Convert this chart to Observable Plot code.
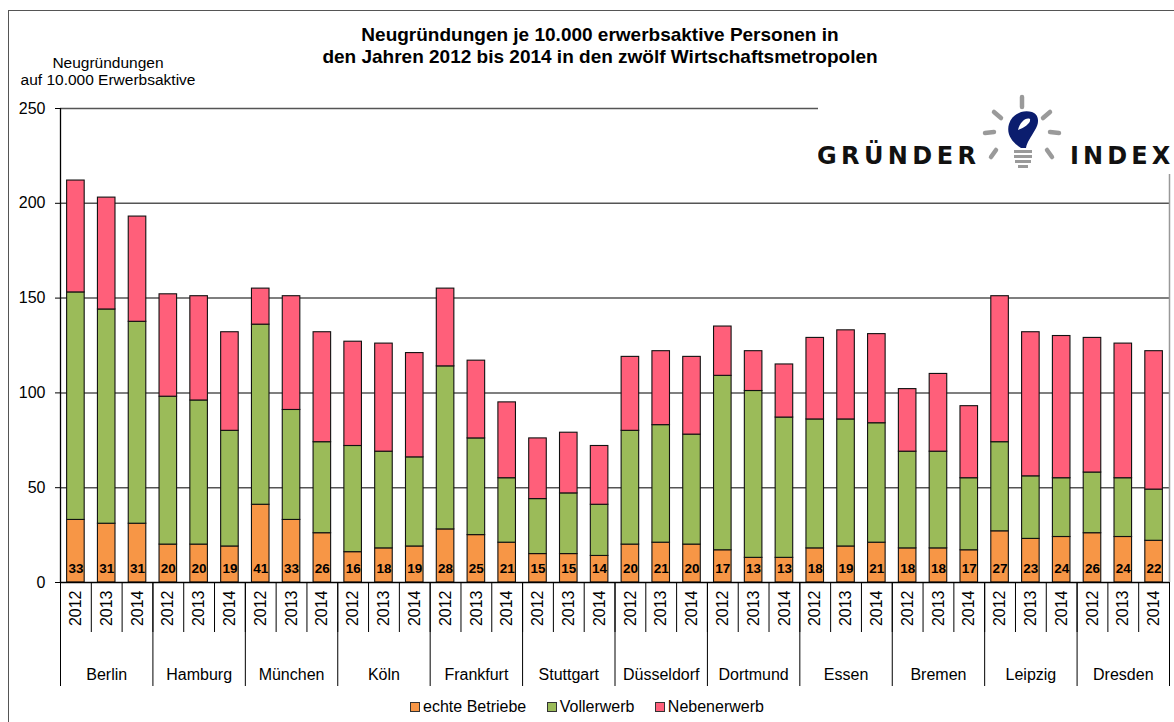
<!DOCTYPE html>
<html>
<head>
<meta charset="utf-8">
<script src="https://cdn.jsdelivr.net/npm/d3@7"></script>
<script src="https://cdn.jsdelivr.net/npm/@observablehq/plot@0.6"></script>
<style>
  html, body { margin: 0; padding: 0; background: #fff; }
  #wrap { position: relative; width: 1174px; height: 722px; overflow: hidden; background: #fff;
          font-family: "Liberation Sans", Arial, sans-serif; color: #000; }
  #frame { position: absolute; left: 8px; top: 10px; width: 1400px; height: 900px; border: 1.5px solid #555; }
  #plot { position: absolute; left: 0; top: 0; }
  #title { position: absolute; left: 0; top: 24px; width: 1200px; text-align: center; font-weight: bold;
           font-size: 19px; line-height: 22px; }
  #ylab { position: absolute; left: 8px; top: 54px; width: 200px; text-align: center; font-size: 15.5px; line-height: 17px; }
  #logo { position: absolute; left: 818px; top: 90px; width: 360px; height: 84px; background: #fff; }
  #legend { position: absolute; left: 0; top: 698px; width: 1174px; text-align: center; font-size: 16px; }
  #legend span.item { margin: 0 8px; white-space: nowrap; }
  #legend span.sw { display: inline-block; width: 8px; height: 8px; border: 1.5px solid #333; margin-right: 3px; vertical-align: 0px; }
</style>
</head>
<body>
<div id="wrap">
  <div id="frame"></div>
  <div id="plot"></div>
  <div id="title">Neugründungen je 10.000 erwerbsaktive Personen in<br>den Jahren 2012 bis 2014 in den zwölf Wirtschaftsmetropolen</div>
  <div id="ylab">Neugründungen<br>auf 10.000 Erwerbsaktive</div>
  <div id="logo">
    <svg width="360" height="84" viewBox="0 0 360 84">
      <text x="-1" y="74" font-family="DejaVu Sans" font-weight="bold" font-size="24" letter-spacing="4.4" fill="#111">GRÜNDER</text>
      <text x="252" y="74" font-family="DejaVu Sans" font-weight="bold" font-size="24" letter-spacing="4.1" fill="#111">INDEX</text>
      <g stroke="#9a9a9a" stroke-width="4.5" stroke-linecap="round" fill="none">
        <line x1="204" y1="7" x2="204" y2="17"/>
        <line x1="176" y1="22" x2="183" y2="28"/>
        <line x1="232" y1="22" x2="225" y2="28"/>
        <line x1="167" y1="43" x2="176" y2="42"/>
        <line x1="232" y1="42" x2="241" y2="43"/>
        <line x1="178" y1="60" x2="173" y2="67"/>
        <line x1="229" y1="60" x2="234" y2="67"/>
      </g>
      <g fill="#9a9a9a">
        <rect x="196" y="60" width="18" height="3"/>
        <rect x="196" y="65" width="18" height="3"/>
        <rect x="197" y="70" width="16" height="3"/>
        <rect x="200" y="75" width="10" height="3"/>
      </g>
      <path d="M203 58 C 194 52, 188 44, 191 34 C 194 24, 205 19, 214 22 C 222 25, 221 34, 217 40 C 213 47, 209 52, 208 58 Z M 200 40 C 202 32, 208 27, 212 29 C 213 33, 207 37, 200 40 Z" fill="#0b1d6e" fill-rule="evenodd"/>
    </svg>
  </div>
  <div id="legend">
    <span class="item"><span class="sw" style="background:#F79646"></span>echte Betriebe</span>
    <span class="item"><span class="sw" style="background:#9BBB59"></span>Vollerwerb</span>
    <span class="item"><span class="sw" style="background:#FF5F7A"></span>Nebenerwerb</span>
  </div>
</div>
<script>
// ---- data ----
const cities = ["Berlin", "Hamburg", "München", "Köln", "Frankfurt", "Stuttgart",
                "Düsseldorf", "Dortmund", "Essen", "Bremen", "Leipzig", "Dresden"];
const years = ["2012", "2013", "2014"];
const seriesNames = ["echte Betriebe", "Vollerwerb", "Nebenerwerb"];
const seriesColors = ["#F79646", "#9BBB59", "#FF5F7A"];
const echte = [33, 31, 31, 20, 20, 19, 41, 33, 26, 16, 18, 19,
               28, 25, 21, 15, 15, 14, 20, 21, 20, 17, 13, 13,
               18, 19, 21, 18, 18, 17, 27, 23, 24, 26, 24, 22];
const vollerwerb = [120, 113, 106.5, 78, 76, 61, 95, 58, 48, 56, 51, 47,
                    86, 51, 34, 29, 32, 27, 60, 62, 58, 92, 88, 74,
                    68, 67, 63, 51, 51, 38, 47, 33, 31, 32, 31, 27];
const nebenerwerb = [59, 59, 55.5, 54, 55, 52, 19, 60, 58, 55, 57, 55,
                     41, 41, 40, 32, 32, 31, 39, 39, 41, 26, 21, 28,
                     43, 47, 47, 33, 41, 38, 77, 76, 75, 71, 71, 73];
const yTicks = [0, 50, 100, 150, 200, 250];

// ---- build tables ----
const bars = [];
const segments = [];
cities.forEach((city, k) => {
  years.forEach((year, j) => {
    const i = k * years.length + j;
    const vals = [echte[i], vollerwerb[i], nebenerwerb[i]];
    bars.push({i, city, year, xm: i + 0.5, echte: echte[i]});
    let acc = 0;
    vals.forEach((v, s) => {
      segments.push({i, city, year, series: seriesNames[s], x1: i + 0.215, x2: i + 0.785, y1: acc, y2: acc + v});
      acc += v;
    });
  });
});
const n = bars.length;
const yearTicks = bars.map(d => d.xm);
const cityTicks = cities.map((c, k) => k * years.length + years.length / 2);
const cityBounds = d3.range(0, n + 1, years.length);

const chart = Plot.plot({
  width: 1174,
  height: 722,
  marginLeft: 60,
  marginRight: 5,
  marginTop: 108,
  marginBottom: 140,
  style: {fontFamily: "'Liberation Sans', Arial, sans-serif", background: "transparent", overflow: "visible", color: "#000"},
  x: {domain: [0, n]},
  y: {domain: [0, 250]},
  color: {domain: seriesNames, range: seriesColors},
  marks: [
    Plot.gridY(yTicks.slice(1), {stroke: "#555", strokeOpacity: 1, strokeWidth: 1.5}),
    Plot.ruleX([n], {y1: 0, y2: 250, stroke: "#999", strokeWidth: 1.5}),
    Plot.rect(segments, {x1: "x1", x2: "x2", y1: "y1", y2: "y2", fill: "series", stroke: "#111", strokeWidth: 1.1}),
    Plot.text(bars, {x: "xm", y: 0, text: d => String(d.echte), dy: -14, fontWeight: "bold", fontSize: 13.5, fill: "#000"}),
    Plot.axisY(yTicks, {tickSize: 5, tickPadding: 10, fontSize: 16, stroke: "#000", label: null}),
    Plot.ruleX([0], {y1: 0, y2: 250, stroke: "#000", strokeWidth: 1.3}),
    Plot.ruleY([0], {stroke: "#000", strokeWidth: 1.5}),
    Plot.axisX(d3.range(n + 1), {tickSize: 50, tickFormat: () => "", stroke: "#000", label: null}),
    Plot.axisX(cityBounds, {tickSize: 104, tickFormat: () => "", stroke: "#000", label: null}),
    Plot.axisX(yearTicks, {tickSize: 0, tickRotate: -90, tickPadding: 8, fontSize: 16,
                           tickFormat: v => years[Math.floor(v) % years.length], label: null}),
    Plot.axisX(cityTicks, {tickSize: 0, tickPadding: 86, fontSize: 16,
                           tickFormat: v => cities[Math.floor(v / years.length)], label: null})
  ]
});
document.getElementById("plot").appendChild(chart);
</script>
</body>
</html>
